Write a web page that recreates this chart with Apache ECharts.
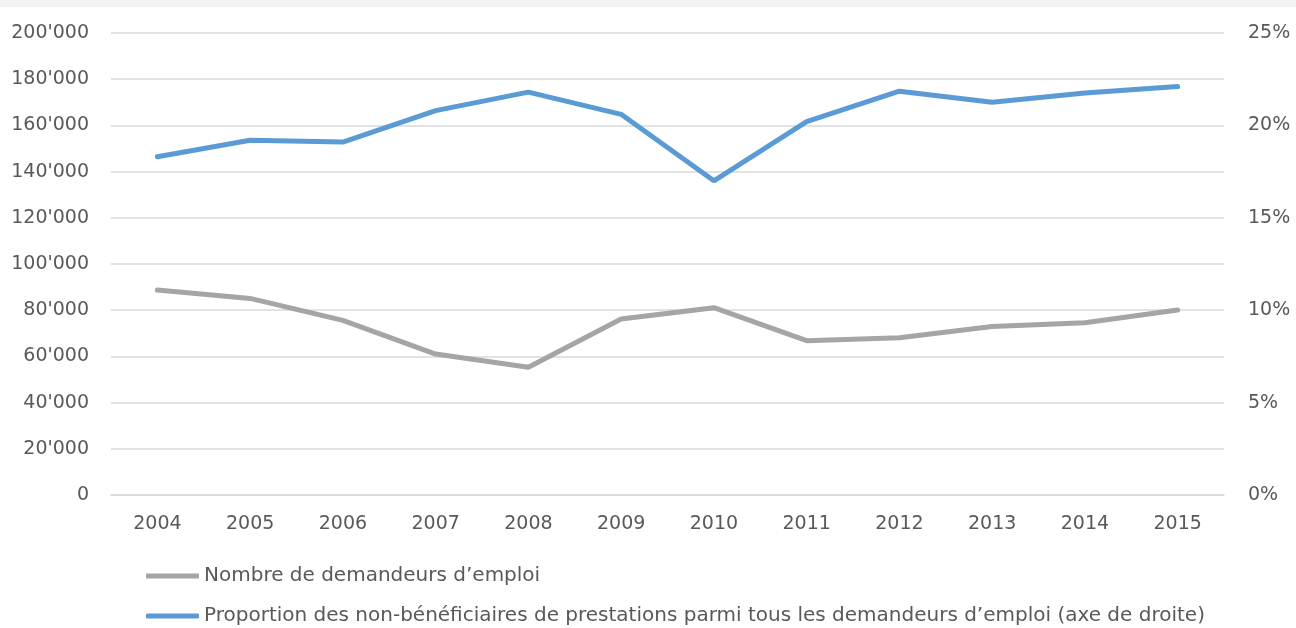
<!DOCTYPE html>
<html>
<head>
<meta charset="utf-8">
<script src="https://cdn.jsdelivr.net/npm/echarts@6/dist/echarts.min.js"></script>
<style>
  html, body { margin: 0; padding: 0; background: #fff; }
  .topbar { position: absolute; left: 0; top: 0; width: 1296px; height: 7px; background: #f2f2f2; }
  #chart { width: 1296px; height: 628px; }
</style>
</head>
<body>
<div id="chart"></div>
<div class="topbar"></div>
<script>
const years = ['2004', '2005', '2006', '2007', '2008', '2009', '2010', '2011', '2012', '2013', '2014', '2015']

// nombre de demandeurs d'emploi (axe de gauche)
const demandeurs = [88700, 85100, 75600, 61000, 55300, 76200, 81100, 66800, 68100, 72900, 74600, 80100]

// proportion des non-bénéficiaires, en % (axe de droite)
const proportion = [18.3, 19.2, 19.1, 20.8, 21.8, 20.6, 17.0, 20.2, 21.85, 21.25, 21.75, 22.1]

const nameGray = 'Nombre de demandeurs d\u2019emploi'
const nameBlue = 'Proportion des non-b\u00e9n\u00e9ficiaires de prestations parmi tous les demandeurs d\u2019emploi (axe de droite)'

const font = 'DejaVu Sans'
const textColor = '#595959'

const chart = echarts.init(document.getElementById('chart'))

function legendRow(name, top) {
  return {
    orient: 'horizontal',
    left: 141,
    top,
    itemWidth: 53,
    itemHeight: 5,
    icon: 'roundRect',
    textStyle: { color: textColor, fontSize: 20, fontFamily: font },
    data: [name]
  }
}

chart.setOption({
  animation: false,
  textStyle: { fontFamily: font },
  grid: { left: 111, right: 72, top: 33, bottom: 133 },
  legend: [legendRow(nameGray, 561), legendRow(nameBlue, 601)],
  xAxis: {
    type: 'category',
    data: years,
    axisLine: { lineStyle: { color: '#d9d9d9', width: 1.5 } },
    axisTick: { show: false },
    axisLabel: { color: textColor, fontSize: 19, margin: 20 }
  },
  yAxis: [
    {
      type: 'value',
      min: 0,
      max: 200000,
      interval: 20000,
      axisLine: { show: false },
      axisTick: { show: false },
      axisLabel: {
        color: textColor,
        fontSize: 19,
        margin: 22,
        formatter: v => v === 0 ? '0' : String(v).replace(/(\d)(?=(\d{3})+$)/g, "$1'")
      },
      splitLine: { lineStyle: { color: '#d9d9d9', width: 1.5 } }
    },
    {
      type: 'value',
      min: 0,
      max: 25,
      interval: 5,
      position: 'right',
      axisLine: { show: false },
      axisTick: { show: false },
      axisLabel: { color: textColor, fontSize: 19, margin: 24, formatter: '{value}%' },
      splitLine: { show: false }
    }
  ],
  series: [
    {
      name: nameGray,
      type: 'line',
      yAxisIndex: 0,
      data: demandeurs,
      symbol: 'none',
      itemStyle: { color: '#a5a5a5' },
      lineStyle: { color: '#a5a5a5', width: 5, cap: 'round' }
    },
    {
      name: nameBlue,
      type: 'line',
      yAxisIndex: 1,
      data: proportion,
      symbol: 'none',
      itemStyle: { color: '#5b9bd5' },
      lineStyle: { color: '#5b9bd5', width: 5, cap: 'round' }
    }
  ]
})
</script>
</body>
</html>
